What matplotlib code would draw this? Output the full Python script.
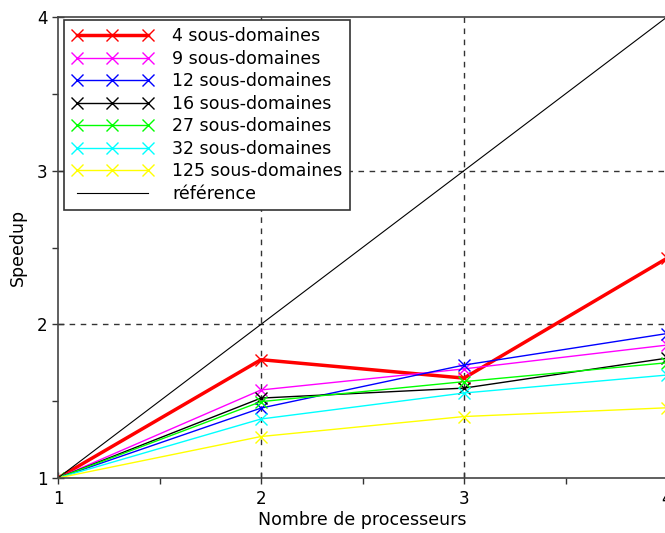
import matplotlib
matplotlib.use("Agg")
import matplotlib.pyplot as plt
from matplotlib.ticker import MultipleLocator

processeurs = [1, 2, 3, 4]

labels = ["4 sous-domaines", "9 sous-domaines", "12 sous-domaines",
          "16 sous-domaines", "27 sous-domaines", "32 sous-domaines",
          "125 sous-domaines"]

speedup_4 = [1.0, 1.77, 1.65, 2.43]
speedup_9 = [1.0, 1.573, 1.71, 1.865]
speedup_12 = [1.0, 1.455, 1.735, 1.94]
speedup_16 = [1.0, 1.52, 1.585, 1.78]
speedup_27 = [1.0, 1.497, 1.627, 1.75]
speedup_32 = [1.0, 1.384, 1.553, 1.67]
speedup_125 = [1.0, 1.27, 1.40, 1.457]

reference = [1, 2, 3, 4]

series = [speedup_4, speedup_9, speedup_12, speedup_16,
          speedup_27, speedup_32, speedup_125]
colors = ["#ff0000", "#ff00ff", "#0000ff", "#000000",
          "#00ff00", "#00ffff", "#ffff00"]
widths = [2.5, 1, 1, 1, 1, 1, 1]

W, H = 665, 533
fig = plt.figure(figsize=(W / 100, H / 100), dpi=100)
ax = fig.add_axes([58 / W, 55 / H, (667 - 58) / W, (478 - 17) / H])

for vals, lab, c, lw in zip(series, labels, colors, widths):
    ax.plot(processeurs, vals, color=c, lw=lw, marker="x", ms=9,
            mew=1, label=lab)
ax.plot(processeurs, reference, color="black", lw=0.8, label="référence")

ax.set_xlim(1, 4)
ax.set_ylim(1, 4)
ax.xaxis.set_major_locator(MultipleLocator(1))
ax.yaxis.set_major_locator(MultipleLocator(1))
ax.xaxis.set_minor_locator(MultipleLocator(0.5))
ax.yaxis.set_minor_locator(MultipleLocator(0.5))
ax.tick_params(which="major", direction="inout", length=8, width=1,
               labelsize=12, color="#333333")
ax.tick_params(axis="x", which="major", pad=5)
ax.tick_params(which="minor", direction="out", length=4, width=1,
               color="#333333")
ax.tick_params(top=False, right=False)

for x in [2, 3]:
    ax.axvline(x, color="#333333", lw=1, ls=(0, (4, 4)), zorder=0)
for y in [2, 3]:
    ax.axhline(y, color="#333333", lw=1, ls=(0, (4, 4)), zorder=0)

for side in ["left", "bottom", "top", "right"]:
    ax.spines[side].set_color("#444444")
    ax.spines[side].set_linewidth(1.2)

ax.set_xlabel("Nombre de processeurs", fontsize=12.5, labelpad=2)
ax.set_ylabel("Speedup", fontsize=12.5, labelpad=7)

leg = ax.legend(loc="upper left", bbox_to_anchor=(6 / 609, 1 - 3 / 461),
                borderaxespad=0, numpoints=3, handlelength=4.7,
                fontsize=12.5, fancybox=False, framealpha=1,
                edgecolor="#333333", labelspacing=0.26,
                handletextpad=1.1, borderpad=0.42)
leg.get_frame().set_linewidth(1.2)

fig.savefig("out.png", dpi=100)
